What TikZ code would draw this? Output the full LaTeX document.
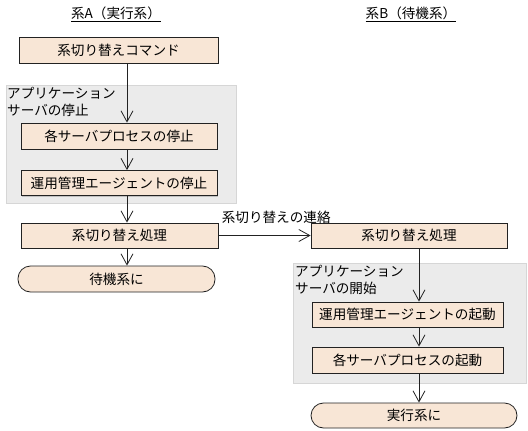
\documentclass[tikz,border=0pt]{standalone}
\usepackage{fontspec}
\setmainfont{Noto Sans CJK JP}
\usetikzlibrary{arrows.meta,shadows}
\definecolor{boxfill}{HTML}{F8E6D6}
\definecolor{grayfill}{HTML}{EBEBEB}
\definecolor{grayline}{HTML}{D6D6D6}
\definecolor{linec}{HTML}{222222}
\tikzset{
  every node/.style={font=\fontsize{13.6pt}{17pt}\selectfont, inner sep=0pt},
  stepbox/.style={draw=linec, line width=0.8pt, fill=boxfill, rectangle,
    drop shadow={shadow xshift=1pt, shadow yshift=-1pt, fill=gray!70, opacity=0.6}},
  termbox/.style={draw=linec, line width=0.8pt, fill=boxfill, rectangle, rounded corners=12.5pt},
  groupbox/.style={draw=grayline, line width=0.8pt, fill=grayfill},
  arr/.style={draw=linec, line width=0.8pt, -{Straight Barb[length=11pt,width=12pt,line width=0.8pt]}},
  grouplabel/.style={anchor=north west, align=left, text depth=0pt},
}
\begin{document}
\begin{tikzpicture}[x=1pt,y=-1pt]
\useasboundingbox (0,0) rectangle (528,431);
% titles
\node (tA) at (116,14) {\underline{系A（実行系）}};
\node (tB) at (411,14) {\underline{系B（待機系）}};
% column guides
\coordinate (ax) at (127,0);
\coordinate (bx) at (419,0);
% group A
\draw[groupbox] (6,85) rectangle (236,203);
\node[grouplabel] (gA) at (7,87) {アプリケーション\\サーバの停止};
% group B
\draw[groupbox] (293,263) rectangle (526,383);
\node[grouplabel] (gB) at (295,265) {アプリケーション\\サーバの開始};
% A nodes
\node[stepbox, minimum width=199pt, minimum height=26pt] (A1) at (118.5,50) {系切り替えコマンド};
\node[stepbox, minimum width=196pt, minimum height=26pt] (A2) at (119,136) {各サーバプロセスの停止};
\node[stepbox, minimum width=196pt, minimum height=25pt] (A3) at (119,183) {運用管理エージェントの停止};
\node[stepbox, minimum width=197pt, minimum height=25pt] (A4) at (119.5,235.5) {系切り替え処理};
\node[termbox, minimum width=197pt, minimum height=26pt] (A5) at (116.5,279) {待機系に};
% B nodes
\node[stepbox, minimum width=196pt, minimum height=25pt] (B1) at (409,235.5) {系切り替え処理};
\node[stepbox, minimum width=191pt, minimum height=25pt] (B2) at (407.5,314.5) {運用管理エージェントの起動};
\node[stepbox, minimum width=191pt, minimum height=26pt] (B3) at (407.5,360) {各サーバプロセスの起動};
\node[termbox, minimum width=206pt, minimum height=25pt] (B4) at (414,415.5) {実行系に};
% arrows
\draw[arr] (A1.south -| ax) -- (A2.north -| ax);
\draw[arr] (A2.south -| ax) -- (A3.north -| ax);
\draw[arr] (A3.south -| ax) -- (A4.north -| ax);
\draw[arr] (A4.south -| ax) -- (A5.north -| ax);
\draw[arr] (A4.east) -- node[pos=0, anchor=south west, xshift=3pt, yshift=11pt] (lab) {系切り替えの連絡} (B1.west);
\draw[arr] (B1.south -| bx) -- (B2.north -| bx);
\draw[arr] (B2.south -| bx) -- (B3.north -| bx);
\draw[arr] (B3.south -| bx) -- (B4.north -| bx);
\end{tikzpicture}
\end{document}
